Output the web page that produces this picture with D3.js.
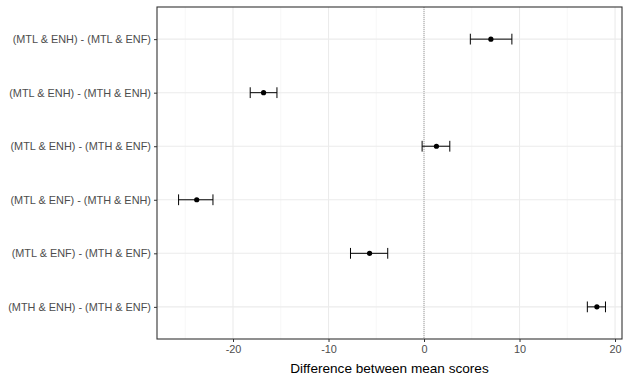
<!DOCTYPE html>
<html lang="en">
  <head>
    <meta charset="utf-8">
    <title>Mean differences</title>
    <script src="https://d3js.org/d3.v7.min.js"></script>
    <style>
      body { margin: 0; background: #fff; }
      text { font-family: "Liberation Sans", Arial, sans-serif; }
    </style>
  </head>
  <body>
    <div id="chart"></div>
    <script type="text/javascript">
      // comparisons, top to bottom
      var comparisons = [
        "(MTL & ENH) - (MTL & ENF)",
        "(MTL & ENH) - (MTH & ENH)",
        "(MTL & ENH) - (MTH & ENF)",
        "(MTL & ENF) - (MTH & ENH)",
        "(MTL & ENF) - (MTH & ENF)",
        "(MTH & ENH) - (MTH & ENF)"
      ];
      var diffs = [7.0, -16.8, 1.3, -23.8, -5.7, 18.1];
      var lower = [4.85, -18.2, -0.2, -25.7, -7.7, 17.1];
      var upper = [9.2, -15.4, 2.7, -22.1, -3.8, 19.0];
      var xTicks = [-20, -10, 0, 10, 20];
      var xMinor = [-25, -15, -5, 5, 15];

      var width = 623, height = 378;
      var panel = { left: 157, right: 622, top: 7, bottom: 339 };

      var svg = d3.select('#chart')
        .append('svg')
        .attr('width', width)
        .attr('height', height);

      var xScale = d3.scaleLinear()
        .domain([-27.96, 20.73])
        .range([panel.left, panel.right]);

      // discrete axis with ggplot-style 0.6 expansion
      var yScale = d3.scalePoint()
        .domain(comparisons)
        .range([panel.top, panel.bottom])
        .padding(0.6);

      var grid = svg.append('g');

      // minor vertical grid
      grid.selectAll('.minor')
        .data(xMinor)
        .enter()
        .append('line')
          .attr('x1', (d) => xScale(d))
          .attr('x2', (d) => xScale(d))
          .attr('y1', panel.top)
          .attr('y2', panel.bottom)
          .style('stroke', '#f2f2f2')
          .style('stroke-width', 0.6);

      // major vertical grid
      grid.selectAll('.major')
        .data(xTicks)
        .enter()
        .append('line')
          .attr('x1', (d) => xScale(d))
          .attr('x2', (d) => xScale(d))
          .attr('y1', panel.top)
          .attr('y2', panel.bottom)
          .style('stroke', '#ebebeb')
          .style('stroke-width', 1.1);

      // horizontal grid
      grid.selectAll('.hgrid')
        .data(comparisons)
        .enter()
        .append('line')
          .attr('x1', panel.left)
          .attr('x2', panel.right)
          .attr('y1', (d) => yScale(d))
          .attr('y2', (d) => yScale(d))
          .style('stroke', '#ebebeb')
          .style('stroke-width', 1.1);

      // reference line at zero
      svg.append('line')
        .attr('x1', xScale(0))
        .attr('x2', xScale(0))
        .attr('y1', panel.top)
        .attr('y2', panel.bottom)
        .style('stroke', '#a0a0a0')
        .style('stroke-width', 1)
        .style('stroke-dasharray', '1,1');

      var rows = comparisons.map((c, i) => ({
        name: c, est: diffs[i], lo: lower[i], hi: upper[i]
      }));
      var capH = 5.4;

      var bars = svg.append('g').selectAll('.bar')
        .data(rows)
        .enter()
        .append('g');

      bars.append('line')
        .attr('x1', (d) => xScale(d.lo))
        .attr('x2', (d) => xScale(d.hi))
        .attr('y1', (d) => yScale(d.name))
        .attr('y2', (d) => yScale(d.name))
        .style('stroke', '#000')
        .style('stroke-width', 1);

      bars.append('line')
        .attr('x1', (d) => xScale(d.lo))
        .attr('x2', (d) => xScale(d.lo))
        .attr('y1', (d) => yScale(d.name) - capH)
        .attr('y2', (d) => yScale(d.name) + capH)
        .style('stroke', '#000')
        .style('stroke-width', 1);

      bars.append('line')
        .attr('x1', (d) => xScale(d.hi))
        .attr('x2', (d) => xScale(d.hi))
        .attr('y1', (d) => yScale(d.name) - capH)
        .attr('y2', (d) => yScale(d.name) + capH)
        .style('stroke', '#000')
        .style('stroke-width', 1);

      bars.append('circle')
        .attr('cx', (d) => xScale(d.est))
        .attr('cy', (d) => yScale(d.name))
        .attr('r', 2.6)
        .attr('fill', '#000');

      // panel border
      svg.append('rect')
        .attr('x', panel.left)
        .attr('y', panel.top)
        .attr('width', panel.right - panel.left)
        .attr('height', panel.bottom - panel.top)
        .attr('fill', 'none')
        .style('stroke', '#333333')
        .style('stroke-width', 1.1);

      // x axis, plain hyphen for negatives
      var xAxis = d3.axisBottom(xScale)
        .tickValues(xTicks)
        .tickFormat((d) => String(d))
        .tickSize(3)
        .tickPadding(3);
      var gx = svg.append('g')
        .attr('transform', 'translate(0,' + panel.bottom + ')')
        .call(xAxis);
      gx.select('.domain').remove();
      gx.selectAll('line').style('stroke', '#333333');
      gx.selectAll('text')
        .style('font-size', '10.9px')
        .style('font-family', '"Liberation Sans", Arial, sans-serif')
        .style('fill', '#4d4d4d');

      // y axis
      var yAxis = d3.axisLeft(yScale)
        .tickSize(3)
        .tickPadding(3);
      var gy = svg.append('g')
        .attr('transform', 'translate(' + panel.left + ',0)')
        .call(yAxis);
      gy.select('.domain').remove();
      gy.selectAll('line').style('stroke', '#333333');
      gy.selectAll('text')
        .style('font-size', '10.9px')
        .style('font-family', '"Liberation Sans", Arial, sans-serif')
        .style('fill', '#4d4d4d');

      // axis title
      svg.append('text')
        .attr('x', (panel.left + panel.right) / 2)
        .attr('y', 373)
        .attr('text-anchor', 'middle')
        .style('font-size', '13.6px')
        .style('fill', '#000')
        .text('Difference between mean scores');
    </script>
  </body>
</html>
